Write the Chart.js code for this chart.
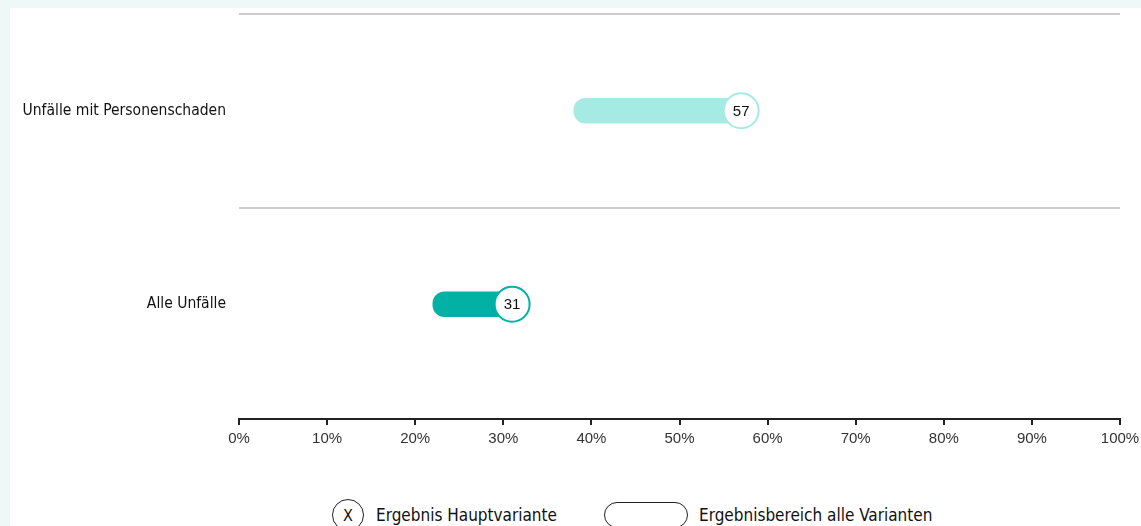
<!DOCTYPE html>
<html lang="de">
<head>
<meta charset="utf-8">
<script src="https://cdn.jsdelivr.net/npm/chart.js@4"></script>
<style>
  html, body { margin: 0; padding: 0; }
  body { width: 1141px; height: 526px; background: #eef8f6; overflow: hidden; }
  #panel { position: absolute; left: 10px; top: 8px; width: 1131px; height: 518px; background: #fff; overflow: hidden; }
  #wrap { position: absolute; left: 0; top: 0; width: 1131px; height: 450px; }
  #legend { position: absolute; left: 0; top: 490px; width: 1131px; height: 36px;
    font-family: "DejaVu Sans Condensed", "Roboto", sans-serif; font-size: 17px; color: #111; }
  .item { position: absolute; top: 0; display: flex; align-items: center; height: 34px; }
  .mark-x { box-sizing: border-box; width: 32px; height: 32px; border: 1.5px solid #222; border-radius: 50%;
    display: flex; align-items: center; justify-content: center; font-size: 16px; margin-right: 12px; }
  .mark-range { box-sizing: border-box; width: 84px; height: 26px; border: 1.5px solid #222; border-radius: 13px; margin-right: 11px; }
</style>
</head>
<body>
<div id="panel">
  <div id="wrap"><canvas id="rangeChart"></canvas></div>
  <div id="legend">
    <div class="item" style="left:322px"><span class="mark-x">X</span>Ergebnis Hauptvariante</div>
    <div class="item" style="left:594px"><span class="mark-range"></span>Ergebnisbereich alle Varianten</div>
  </div>
</div>
<script>
// Kategorien und Werte (Anteil in %)
const categories = ["Unfälle mit Personenschaden", "Alle Unfälle"];
const rangeStart = [38, 22];
const rangeEnd = [57, 31];
const mainResult = [57, 31];
const barColors = ["#a5ebe4", "#00b1a4"];
const xTicks = [0, 10, 20, 30, 40, 50, 60, 70, 80, 90, 100];

// Wert als Zahl in den Kreis schreiben
const valueLabels = {
    id: "valueLabels",
    afterDatasetsDraw(chart) {
        const ctx = chart.ctx;
        const meta = chart.getDatasetMeta(1);
        ctx.save();
        ctx.font = "15px 'Liberation Sans', Arial, sans-serif";
        ctx.fillStyle = "#111";
        ctx.textAlign = "center";
        ctx.textBaseline = "middle";
        meta.data.forEach((pt, i) => {
            ctx.fillText(String(mainResult[i]), pt.x, pt.y + 1);
        });
        ctx.restore();
    },
};

const ctx = document.getElementById("rangeChart").getContext("2d");
new Chart(ctx, {
    type: "bar",
    data: {
        datasets: [
            {
                type: "bar",
                label: "Ergebnisbereich alle Varianten",
                data: categories.map((c, i) => ({ x: [rangeStart[i], rangeEnd[i]], y: i })),
                backgroundColor: barColors,
                borderRadius: 12,
                borderSkipped: false,
                barThickness: 25,
                order: 2,
            },
            {
                type: "scatter",
                label: "Ergebnis Hauptvariante",
                data: categories.map((c, i) => ({ x: mainResult[i], y: i })),
                pointRadius: 17.5,
                pointHoverRadius: 17.5,
                pointBackgroundColor: "#fff",
                pointBorderColor: barColors,
                pointBorderWidth: 2,
                order: 1,
            },
        ],
    },
    options: {
        indexAxis: "y",
        responsive: true,
        maintainAspectRatio: false,
        animation: false,
        layout: { autoPadding: false, padding: { top: 6, right: 21, bottom: 5, left: 0 } },
        plugins: {
            legend: { display: false },
            tooltip: { enabled: false },
        },
        scales: {
            x: {
                type: "linear",
                min: 0,
                max: 100,
                afterBuildTicks: (s) => { s.ticks = xTicks.map((v) => ({ value: v })); },
                afterFit: (s) => {
                    s.paddingLeft = 0;
                    s.paddingRight = 0;
                },
                ticks: {
                    callback: (v) => v + "%",
                    color: "#333",
                    padding: 5,
                    maxRotation: 0,
                    font: { family: "'Liberation Sans', Arial, sans-serif", size: 15 },
                },
                grid: { drawOnChartArea: false, drawTicks: true, tickLength: 6, color: "#222", lineWidth: 2 },
                border: { display: true, color: "#222", width: 2 },
            },
            y: {
                type: "linear",
                reverse: true,
                offset: false,
                min: -0.5,
                max: 1.593,
                afterBuildTicks: (s) => { s.ticks = [-0.5, 0, 0.5, 1].map((v) => ({ value: v })); },
                afterFit: (s) => {
                    s.width = 229;
                    s.paddingTop = 0;
                    s.paddingBottom = 0;
                },
                ticks: {
                    callback: (v) => (Number.isInteger(v) ? categories[v] : ""),
                    color: "#111",
                    padding: 13,
                    font: { family: "'DejaVu Sans Condensed', Roboto, sans-serif", size: 15.5 },
                },
                grid: {
                    offset: false,
                    drawTicks: false,
                    lineWidth: 2,
                    color: (c) => (c.tick && !Number.isInteger(c.tick.value) ? "#cccccc" : "rgba(0,0,0,0)"),
                },
                border: { display: false },
            },
        },
    },
    plugins: [valueLabels],
});
</script>
</body>
</html>
